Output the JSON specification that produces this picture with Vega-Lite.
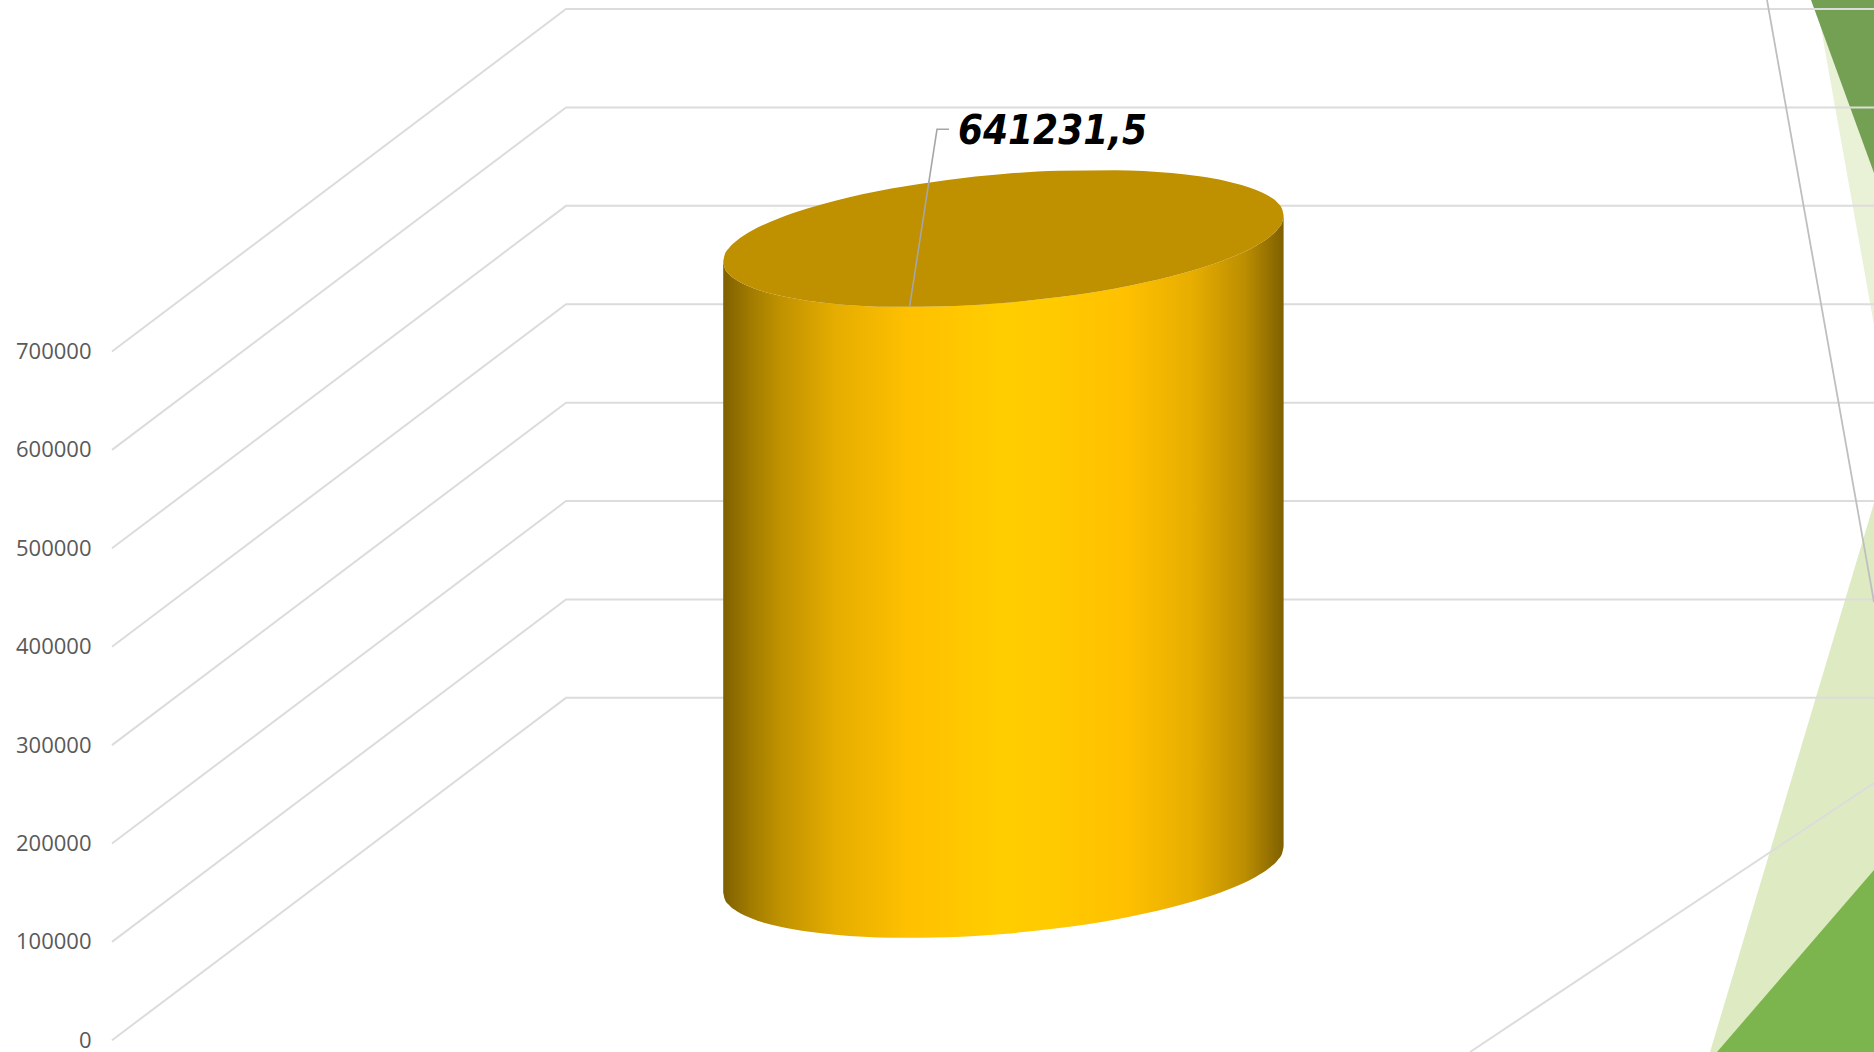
{
"$schema":"https://vega.github.io/schema/vega-lite/v6.json",
"width":1874,"height":1052,"autosize":{"type":"none"},"padding":0,"background":"white",
"config":{"view":{"stroke":null}},
"datasets":{
"shapes":[
{"shape":"paleTop","x":1816,"y":1057215,"y2":1057215},{"shape":"paleTop","x":1874,"y":1057215,"y2":726931},
{"shape":"darkTop","x":1811,"y":1057215,"y2":1057215},{"shape":"darkTop","x":1874,"y":1057215,"y2":881402},
{"shape":"paleLow","x":1710,"y":-11890,"y2":-11890},{"shape":"paleLow","x":1874,"y":546036,"y2":-11890},
{"shape":"darkLow","x":1717,"y":-11890,"y2":-11890},{"shape":"darkLow","x":1874,"y":173069,"y2":-11890}
],
"grid":[
{"tick":0,"x":112,"y":0},{"tick":0,"x":566,"y":348000},{"tick":0,"x":1874,"y":348000},
{"tick":100000,"x":112,"y":100000},{"tick":100000,"x":566,"y":448000},{"tick":100000,"x":1874,"y":448000},
{"tick":200000,"x":112,"y":200000},{"tick":200000,"x":566,"y":548000},{"tick":200000,"x":1874,"y":548000},
{"tick":300000,"x":112,"y":300000},{"tick":300000,"x":566,"y":648000},{"tick":300000,"x":1874,"y":648000},
{"tick":400000,"x":112,"y":400000},{"tick":400000,"x":566,"y":748000},{"tick":400000,"x":1874,"y":748000},
{"tick":500000,"x":112,"y":500000},{"tick":500000,"x":566,"y":848000},{"tick":500000,"x":1874,"y":848000},
{"tick":600000,"x":112,"y":600000},{"tick":600000,"x":566,"y":948000},{"tick":600000,"x":1874,"y":948000},
{"tick":700000,"x":112,"y":700000},{"tick":700000,"x":566,"y":1048000},{"tick":700000,"x":1874,"y":1048000},
{"tick":-1,"x":1470,"y":-11890},{"tick":-1,"x":1874,"y":261484}
],
"rim":[
{"x":723.2,"y":791489,"y2":791489},{"x":724.6,"y":798154,"y2":785058},{"x":728.8,"y":805000,"y2":778912},{"x":737.2,"y":813120,"y2":772192},{"x":751.2,"y":822397,"y2":765251},{"x":779.2,"y":835488,"y2":756830},{"x":807.3,"y":845303,"y2":751685},{"x":835.3,"y":853268,"y2":748390},{"x":891.3,"y":865574,"y2":745422},{"x":947.4,"y":874393,"y2":745943},{"x":1003.4,"y":880387,"y2":749289},{"x":1059.4,"y":883733,"y2":755283},{"x":1115.5,"y":884254,"y2":764102},{"x":1171.5,"y":881286,"y2":776408},{"x":1199.5,"y":877991,"y2":784373},{"x":1227.6,"y":872846,"y2":794188},{"x":1255.6,"y":864425,"y2":807279},{"x":1269.6,"y":857484,"y2":816556},{"x":1278,"y":850764,"y2":824676},{"x":1282.2,"y":844618,"y2":831522},{"x":1283.6,"y":838187,"y2":838187}
],
"body":[
{"x":723.2,"y":791489,"y2":150258},{"x":724.6,"y":785058,"y2":143827},{"x":728.8,"y":778912,"y2":137681},{"x":737.2,"y":772192,"y2":130961},{"x":751.2,"y":765251,"y2":124020},{"x":779.2,"y":756830,"y2":115599},{"x":807.3,"y":751685,"y2":110454},{"x":835.3,"y":748390,"y2":107159},{"x":891.3,"y":745422,"y2":104191},{"x":947.4,"y":745943,"y2":104712},{"x":1003.4,"y":749289,"y2":108058},{"x":1059.4,"y":755283,"y2":114052},{"x":1115.5,"y":764102,"y2":122871},{"x":1171.5,"y":776408,"y2":135177},{"x":1199.5,"y":784373,"y2":143142},{"x":1227.6,"y":794188,"y2":152957},{"x":1255.6,"y":807279,"y2":166048},{"x":1269.6,"y":816556,"y2":175325},{"x":1278,"y":824676,"y2":183445},{"x":1282.2,"y":831522,"y2":190291},{"x":1283.6,"y":838187,"y2":196956}
]
},
"encoding":{
"x":{"field":"x","type":"quantitative","scale":{"domain":[0,1874],"nice":false,"zero":false},"axis":null},
"y":{"field":"y","type":"quantitative","scale":{"domain":[-11890,1057215],"nice":false,"zero":false},
"axis":{"orient":"left","offset":-91,"title":null,"values":[0,100000,200000,300000,400000,500000,600000,700000],"format":"d","grid":false,"domain":false,"ticks":false,"labelPadding":0,"labelFont":"Open Sans","labelFontSize":22,"labelColor":"#595959","labelOverlap":false,"labelBound":false,"labelFlush":false}}
},
"layer":[
{"data":{"name":"shapes"},"transform":[{"filter":"datum.shape==='paleTop'"}],"mark":{"type":"area","fill":"#E9F1D7"},"encoding":{"y2":{"field":"y2"}}},
{"data":{"name":"shapes"},"transform":[{"filter":"datum.shape==='darkTop'"}],"mark":{"type":"area","fill":"#74A053"},"encoding":{"y2":{"field":"y2"}}},
{"data":{"name":"shapes"},"transform":[{"filter":"datum.shape==='paleLow'"}],"mark":{"type":"area","fill":"#DEEBC2"},"encoding":{"y2":{"field":"y2"}}},
{"data":{"name":"shapes"},"transform":[{"filter":"datum.shape==='darkLow'"}],"mark":{"type":"area","fill":"#7CB54E"},"encoding":{"y2":{"field":"y2"}}},
{"data":{"name":"grid"},"mark":{"type":"line","stroke":"#DCDCDC","strokeWidth":2},"encoding":{"detail":{"field":"tick"}}},
{"data":{"values":[{"x":1767,"y":1057215},{"x":1874,"y":445427}]},"mark":{"type":"line","stroke":"#BFBFBF","strokeWidth":1.8},"encoding":{}},
{"data":{"name":"body"},"mark":{"type":"area","interpolate":"monotone","fill":{"gradient":"linear","x1":0,"y1":0,"x2":1,"y2":0,"stops":[
{"offset":0,"color":"#7F6000"},{"offset":0.05,"color":"#A27C00"},{"offset":0.1,"color":"#BF9100"},{"offset":0.2,"color":"#E5AD00"},{"offset":0.33,"color":"#FFC000"},{"offset":0.49,"color":"#FFCD00"},{"offset":0.58,"color":"#FFCB00"},{"offset":0.72,"color":"#FFC000"},{"offset":0.84,"color":"#E6AD00"},{"offset":0.93,"color":"#BC8E00"},{"offset":1,"color":"#7F6000"}]}},"encoding":{"y2":{"field":"y2"}}},
{"data":{"name":"rim"},"mark":{"type":"area","interpolate":"monotone","fill":"#BF9000"},"encoding":{"y2":{"field":"y2"}}},
{"data":{"values":[{"x":909.6,"y":745528,"order":1},{"x":937,"y":925800,"order":2},{"x":949,"y":925800,"order":3}]},"mark":{"type":"line","stroke":"#A6A6A6","strokeWidth":1.6},"encoding":{"order":{"field":"order"}}},
{"data":{"values":[{"x":958,"y":923300,"value":641231.5,"label":"641231,5"}]},"mark":{"type":"text","align":"left","baseline":"middle","font":"DejaVu Sans Condensed","fontSize":40,"fontWeight":"bold","fontStyle":"italic","fill":"#000000"},"encoding":{"text":{"field":"label"}}}
]
}
